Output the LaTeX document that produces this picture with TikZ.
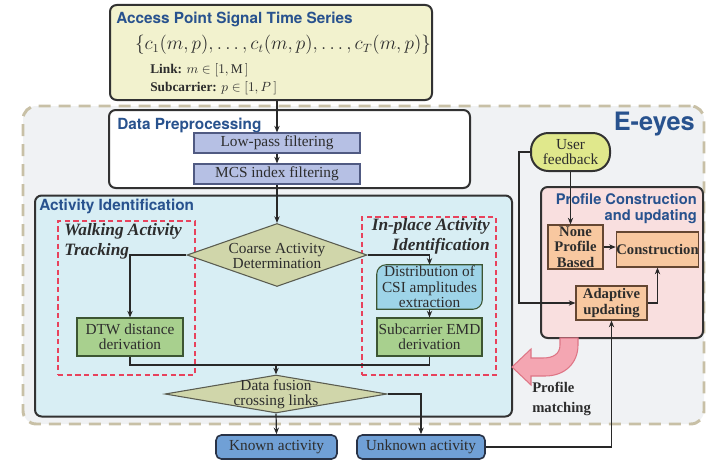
\documentclass[tikz,border=0pt]{standalone}
\usepackage{fontspec}
\setmainfont{Liberation Serif}
\newfontfamily\headfont{TeX Gyre Heros}
\usetikzlibrary{arrows.meta,shapes.geometric}

\definecolor{titleblue}{RGB}{40,82,142}
\definecolor{textgray}{RGB}{45,45,45}
\definecolor{panelline}{RGB}{50,50,50}
\definecolor{apfill}{RGB}{242,242,206}
\definecolor{outerfill}{RGB}{240,242,244}
\definecolor{outerdash}{RGB}{200,192,166}
\definecolor{actfill}{RGB}{216,238,244}
\definecolor{filterfill}{RGB}{182,192,228}
\definecolor{filterline}{RGB}{80,90,130}
\definecolor{greenfill}{RGB}{168,208,142}
\definecolor{greenline}{RGB}{60,85,50}
\definecolor{distfill}{RGB}{158,212,232}
\definecolor{diamfill}{RGB}{208,214,170}
\definecolor{diamline}{RGB}{90,92,80}
\definecolor{trackred}{RGB}{232,66,92}
\definecolor{resfill}{RGB}{112,160,214}
\definecolor{resline}{RGB}{40,50,70}
\definecolor{feedfill}{RGB}{224,232,140}
\definecolor{pinkfill}{RGB}{249,223,223}
\definecolor{orangefill}{RGB}{248,200,160}
\definecolor{orangeline}{RGB}{100,70,50}
\definecolor{matchfill}{RGB}{244,166,178}
\definecolor{matchline}{RGB}{222,118,134}
\definecolor{flowline}{RGB}{40,40,40}

\tikzset{
  head/.style={font=\headfont\bfseries\fontsize{11.5}{13}\selectfont, text=titleblue, inner sep=0pt},
  panel/.style={draw=panelline, line width=1.5pt, rounded corners=5pt, inner sep=0pt},
  outerbox/.style={draw=outerdash, fill=outerfill, line width=2.2pt, dash pattern=on 9pt off 6pt, rounded corners=10pt, inner sep=0pt},
  filterbox/.style={draw=filterline, fill=filterfill, line width=0.8pt, inner sep=0pt},
  greenbox/.style={draw=greenline, fill=greenfill, line width=0.8pt, inner sep=0pt, align=center},
  decision/.style={diamond, draw=diamline, fill=diamfill, line width=0.8pt, inner sep=0pt},
  trackbox/.style={draw=trackred, dash pattern=on 4pt off 2.5pt, line width=1.2pt, inner sep=0pt},
  resultbox/.style={draw=resline, fill=resfill, line width=1.2pt, rounded corners=4pt, inner sep=0pt},
  orangebox/.style={draw=orangeline, fill=orangefill, line width=0.9pt, inner sep=0pt, align=center, font=\bfseries\fontsize{11}{11.5}\selectfont},
  tracktext/.style={font=\bfseries\itshape\fontsize{13}{15}\selectfont, inner sep=0pt},
  flow/.style={->, draw=flowline, line width=0.9pt},
  link/.style={draw=flowline, line width=0.9pt},
}

\begin{document}
\begin{tikzpicture}[x=0.75pt,y=0.75pt,yscale=-1,>={Stealth[length=5pt,width=4pt]},font=\fontsize{11.5}{11.5}\selectfont,text=textgray]
\useasboundingbox (0,0) rectangle (706,460);

% E-eyes area
\node[outerbox, minimum width=510.75pt, minimum height=238.5pt] (eeyes) at (363.5,265) {};
\node[anchor=east, inner sep=0pt, font=\headfont\bfseries\fontsize{19}{20}\selectfont, text=titleblue] (eeyeslbl) at (695,124) {E-eyes};

% Access point signal time series
\node[panel, fill=apfill, minimum width=241.5pt, minimum height=71.25pt] (ap) at (271,52.5) {};
\node[head, anchor=west] (aplbl) at (116,19) {Access Point Signal Time Series};
\node[font=\fontsize{13.5}{15}\selectfont, inner sep=0pt] (apseries) at (283,45) {$\{c_1(m,p),\ldots,c_t(m,p),\ldots,c_T(m,p)\}$};
\node[anchor=west, inner sep=0pt, font=\bfseries\fontsize{10}{11}\selectfont] (aplink) at (150,70) {Link: $m\in[1,\mathrm{M}\,]$};
\node[anchor=west, inner sep=0pt, font=\bfseries\fontsize{10}{11}\selectfont] (apsub) at (150,88) {Subcarrier: $p\in[1,P\,]$};

% Data preprocessing
\node[panel, fill=white, minimum width=270.75pt, minimum height=58.5pt] (pre) at (289.5,149) {};
\node[head, anchor=west] (prelbl) at (117,125) {Data Preprocessing};
\node[filterbox, minimum width=124.5pt, minimum height=15pt] (lowpass) at (277,143) {Low-pass filtering};
\node[filterbox, minimum width=124.5pt, minimum height=15pt] (mcs) at (277,174) {MCS index filtering};

% Activity identification
\node[panel, fill=actfill, minimum width=357.75pt, minimum height=165.75pt] (act) at (273.5,306) {};
\node[head, anchor=west] (actlbl) at (39,206) {Activity Identification};

\node[trackbox, minimum width=102.75pt, minimum height=115.5pt] (walk) at (126.5,298) {};
\node[tracktext, anchor=north west, align=left] (walklbl) at (64,223) {Walking Activity\\Tracking};
\node[trackbox, minimum width=100.5pt, minimum height=118.5pt] (inplace) at (429,296) {};
\node[tracktext, anchor=north east, align=right] (inplacelbl) at (490,218) {In-place Activity\\Identification};

\node[decision, minimum width=135pt, minimum height=47.25pt] (coarse) at (277,255) {};
\node[align=center, inner sep=0pt] (coarselbl) at (277,256) {Coarse Activity\\Determination};

\node[greenbox, minimum width=79.5pt, minimum height=28.5pt] (dtw) at (130,337) {DTW distance\\derivation};

\node[minimum width=78.75pt, minimum height=33pt, inner sep=0pt] (dist) at (429.5,287) {};
\draw[draw=greenline, fill=distfill, line width=0.8pt] (dist.west) [rounded corners=7pt] -- (dist.north west) -- (dist.north) [sharp corners] -- (dist.north east) -- (dist.east) [rounded corners=7pt] -- (dist.south east) -- (dist.south) [sharp corners] -- (dist.south west) -- cycle;
\node[align=center, inner sep=0pt] (distlbl) at (dist) {Distribution of\\CSI amplitudes\\extraction};
\node[greenbox, minimum width=78.75pt, minimum height=28.5pt] (emd) at (429.5,337) {Subcarrier EMD\\derivation};

\node[decision, minimum width=166.5pt, minimum height=28.5pt] (fusion) at (276,394) {};
\node[align=center, inner sep=0pt] (fusionlbl) at (276,394) {Data fusion\\crossing links};
\coordinate (merge) at (276,365);

% results
\node[resultbox, minimum width=90.75pt, minimum height=18pt] (known) at (276.5,447) {Known activity};
\node[resultbox, minimum width=96pt, minimum height=18pt] (unknown) at (421,447) {Unknown activity};

% profile construction
\node[panel, fill=pinkfill, minimum width=121.5pt, minimum height=113.25pt] (profile) at (622,262.5) {};
\node[head, anchor=north east, align=right, font=\headfont\bfseries\fontsize{11}{12}\selectfont] (profilelbl) at (697,193) {Profile Construction\\and updating};
\node[orangebox, minimum width=41.25pt, minimum height=33pt] (none) at (575.5,247) {None\\Profile\\Based};
\node[orangebox, minimum width=60.75pt, minimum height=26.25pt] (construction) at (657.5,249.5) {Construction};
\node[orangebox, minimum width=53.25pt, minimum height=25.5pt] (adaptive) at (611.5,303) {Adaptive\\updating};
\node[draw=panelline, fill=feedfill, line width=1.5pt, rounded corners=13pt, minimum width=59.25pt, minimum height=28.5pt, inner sep=0pt, align=center] (feedback) at (570.5,152) {User\\feedback};
\coordinate (fbturn) at (519,152);

% profile matching arrow
\draw[fill=matchfill, draw=matchline, line width=0.8pt] (560,338) -- (560,345) .. controls (560,354) and (553,358) .. (543,358) -- (531,358) -- (531,349) -- (512,367) -- (531,385) -- (531,376) -- (545,376) .. controls (566,376) and (578,362) .. (578,345) -- (578,338) -- cycle;
\node[anchor=north west, align=left, inner sep=0pt, font=\bfseries\fontsize{11}{15}\selectfont] (matchlbl) at (532,382) {Profile\\matching};

% connectors
\draw[flow] (ap.south -| lowpass.north) -- (lowpass.north);
\draw[flow] (lowpass) -- (mcs);
\draw[flow] (mcs.south) -- (coarse.north);
\draw[flow] (coarse.west) -| (dtw.north);
\draw[flow] (coarse.east) -| (dist.north);
\draw[flow] (dist.south) -- (emd.north);
\draw[link] (dtw.south) |- (merge);
\draw[link] (emd.south) |- (merge);
\draw[flow] (merge) -- (fusion.north);
\draw[flow] (fusion.south) -- (known.north);
\draw[flow] (fusion.east) -| (unknown.north);
\draw[flow] (unknown.east) -| (adaptive.south);
\draw[flow] (feedback.west) -- (fbturn) |- (adaptive.west);
\draw[flow] (feedback.south) -- (feedback.south |- none.north);
\draw[flow] (none.east) -- (none.east -| construction.west);
\draw[flow] (adaptive.east) -| (construction.south);
\end{tikzpicture}
\end{document}
